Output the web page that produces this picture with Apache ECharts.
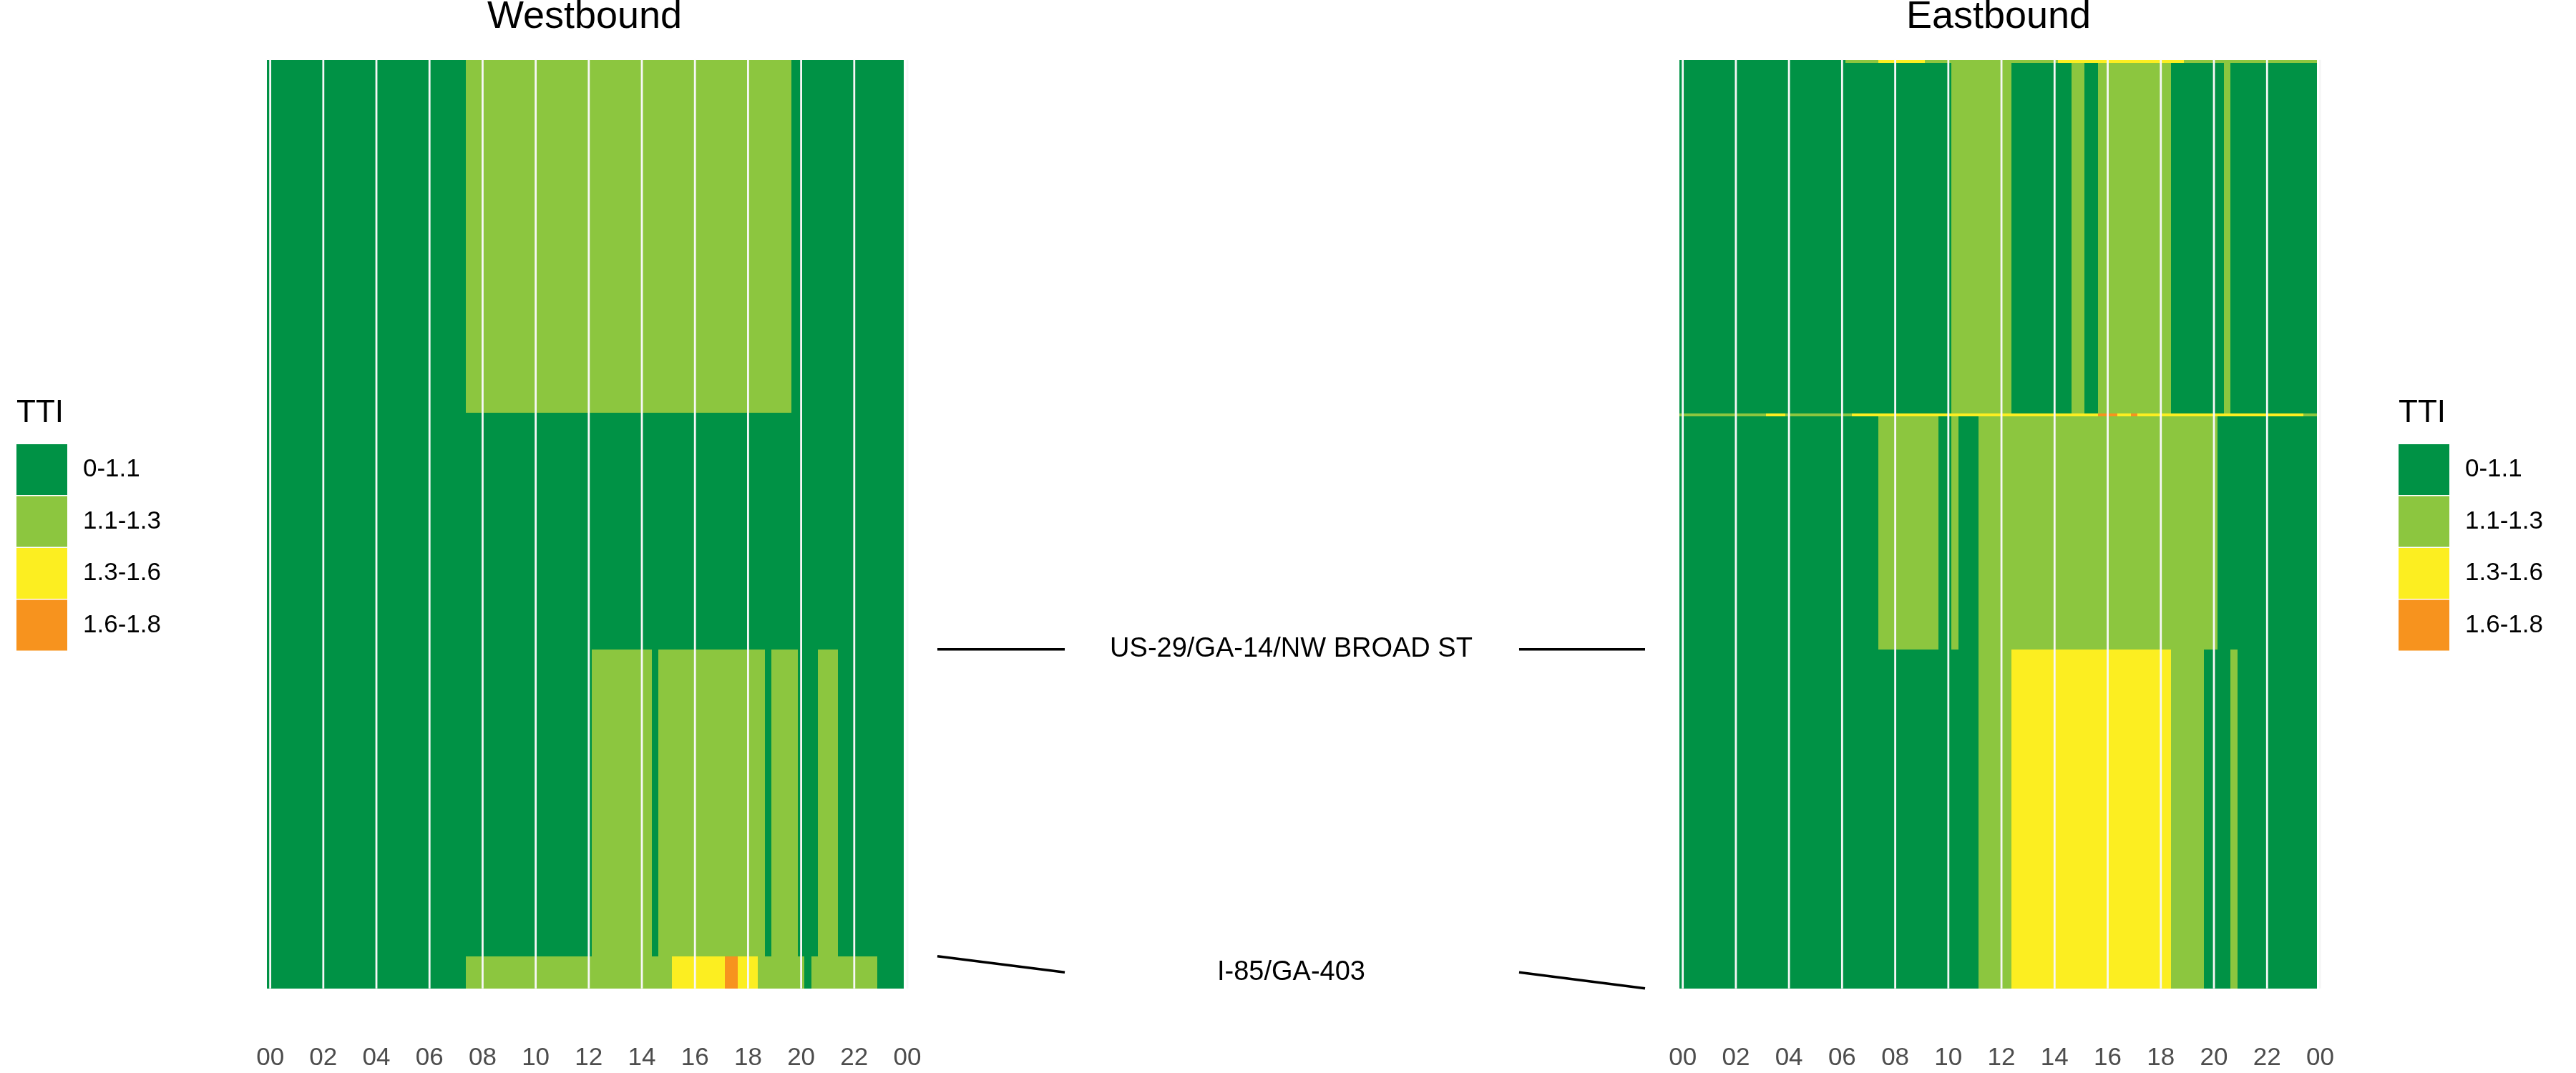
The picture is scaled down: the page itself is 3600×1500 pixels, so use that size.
<!DOCTYPE html>
<html>
<head>
<meta charset="utf-8">
<script src="https://cdn.jsdelivr.net/npm/echarts@6/dist/echarts.min.js"></script>
<style>
  html, body { margin: 0; padding: 0; background: #fff; }
  #chart { width: 3600px; height: 1500px; }
</style>
</head>
<body>
<div id="chart"></div>
<script>
// TTI classes
const levelLabels = ['0-1.1', '1.1-1.3', '1.3-1.6', '1.6-1.8'];
const levelColors = ['#009245', '#8CC63F', '#FCEE21', '#F7931E'];

// hour ticks (x axis)
const hourTicks = [0, 2, 4, 6, 8, 10, 12, 14, 16, 18, 20, 22, 24];

// segment breaks along the corridor (distance, bottom -> top)
const wbBreaks = [0, 0.045, 0.474, 0.805, 1.298];
const ebBreaks = [0, 0.474, 0.800, 0.804, 1.294, 1.298];

// runs of 15-min slots per segment: [first slot hour, last slot hour, TTI class]
// Westbound, bottom segment first
const wbRuns0 = [[0, 7.25, 0], [7.5, 15, 1], [15.25, 17, 2], [17.25, 17.5, 3], [17.75, 18.25, 2], [18.5, 20, 1], [20.25, 20.25, 0], [20.5, 22.75, 1], [23, 23.75, 0]];
const wbRuns1 = [[0, 12, 0], [12.25, 14.25, 1], [14.5, 14.5, 0], [14.75, 18.5, 1], [18.75, 18.75, 0], [19, 19.75, 1], [20, 20.5, 0], [20.75, 21.25, 1], [21.5, 23.75, 0]];
const wbRuns2 = [[0, 23.75, 0]];
const wbRuns3 = [[0, 7.25, 0], [7.5, 19.5, 1], [19.75, 23.75, 0]];
// Eastbound, bottom segment first
const ebRuns0 = [[0, 11, 0], [11.25, 12.25, 1], [12.5, 18.25, 2], [18.5, 19.5, 1], [19.75, 20.5, 0], [20.75, 20.75, 1], [21, 23.75, 0]];
const ebRuns1 = [[0, 7.25, 0], [7.5, 9.5, 1], [9.75, 10, 0], [10.25, 10.25, 1], [10.5, 11, 0], [11.25, 20, 1], [20.25, 23.75, 0]];
const ebRuns2 = [[0, 3, 1], [3.25, 3.75, 2], [4, 6.25, 1], [6.5, 15.5, 2], [15.75, 16.25, 3], [16.5, 16.75, 2], [17, 17, 3], [17.25, 23.25, 2], [23.5, 23.75, 1]];
const ebRuns3 = [[0, 10, 0], [10.25, 12.25, 1], [12.5, 14.5, 0], [14.75, 15, 1], [15.25, 15.5, 0], [15.75, 18.25, 1], [18.5, 20.25, 0], [20.5, 20.5, 1], [20.75, 23.75, 0]];
const ebRuns4 = [[0, 6, 0], [6.25, 7.25, 1], [7.5, 9, 2], [9.25, 14, 1], [14.25, 18.75, 2], [19, 23.75, 1]];

// cross streets: names and their distance in each direction
const crossNames = ['US-29/GA-14/NW BROAD ST', 'I-85/GA-403'];
const crossWb = [0.474, 0.045];
const crossEb = [0.474, 0];

const slotHalf = 0.125; // half of a 15-min slot, in hours
const distMax = 1.298;
const FONT = "'Liberation Sans', Arial, Helvetica, sans-serif";

function buildTiles(breaks, runsList) {
    const out = [];
    runsList.forEach(function (runs, i) {
        runs.forEach(function (r) {
            out.push([r[0] - slotHalf, r[1] + slotHalf, breaks[i], breaks[i + 1], r[2]]);
        });
    });
    return out;
}

const wbTiles = buildTiles(wbBreaks, [wbRuns0, wbRuns1, wbRuns2, wbRuns3]);
const ebTiles = buildTiles(ebBreaks, [ebRuns0, ebRuns1, ebRuns2, ebRuns3, ebRuns4]);

function renderTile(params, api) {
    const p0 = api.coord([api.value(0), api.value(3)]);
    const p1 = api.coord([api.value(1), api.value(2)]);
    const x0 = Math.round(p0[0]), x1 = Math.round(p1[0]);
    const y0 = Math.round(p0[1]), y1 = Math.round(p1[1]);
    return {
        type: 'rect',
        shape: { x: x0, y: y0, width: x1 - x0, height: y1 - y0 },
        style: { fill: levelColors[api.value(4)] }
    };
}

function renderGridLine(params, api) {
    const a = api.coord([api.value(0), 0]);
    const b = api.coord([api.value(0), distMax]);
    return {
        type: 'line',
        shape: { x1: a[0], y1: a[1], x2: b[0], y2: b[1] },
        style: { stroke: '#F7F7F7', lineWidth: 2.8 }
    };
}

function renderCross(params, api) {
    const wb = api.value(0), eb = api.value(1);
    const mid = (wb + eb) / 2;
    const a = api.coord([0, wb]);
    const b = api.coord([0.18, mid]);
    const c = api.coord([0.822, mid]);
    const d = api.coord([1, eb]);
    const t = api.coord([0.5, mid]);
    const ls = { stroke: '#000', lineWidth: 3.5 };
    return {
        type: 'group',
        children: [
            { type: 'line', shape: { x1: a[0], y1: a[1], x2: b[0], y2: b[1] }, style: ls },
            { type: 'line', shape: { x1: c[0], y1: c[1], x2: d[0], y2: d[1] }, style: ls },
            {
                type: 'text', x: t[0], y: t[1],
                style: {
                    text: crossNames[params.dataIndex], fill: '#000',
                    fontSize: 38, fontFamily: FONT, align: 'center', verticalAlign: 'middle'
                }
            }
        ]
    };
}

const timeAxis = function (gi) {
    return {
        gridIndex: gi, type: 'value', min: -slotHalf, max: 24,
        axisLine: { show: false }, axisTick: { show: false }, splitLine: { show: false },
        axisLabel: {
            customValues: hourTicks, showMinLabel: true, showMaxLabel: true,
            margin: 80, fontSize: 35, color: '#4D4D4D', fontFamily: FONT,
            formatter: function (v) { return String(v % 24).padStart(2, '0'); }
        }
    };
};
const distAxis = function (gi) {
    return { gridIndex: gi, type: 'value', min: 0, max: distMax, show: false };
};

const pieces = levelLabels.map(function (l, i) { return { value: i, label: l, color: levelColors[i] }; });
const legendBase = {
    type: 'piecewise', dimension: 4, seriesIndex: [0, 1], pieces: pieces,
    orient: 'vertical', inverse: true, itemSymbol: 'rect', itemWidth: 71, itemHeight: 71, itemGap: 1.5,
    align: 'left', textGap: 22, padding: 0, selectedMode: false, hoverLink: false,
    top: 621, textStyle: { fontSize: 35, color: '#000', fontFamily: FONT }
};

const chart = echarts.init(document.getElementById('chart'));
const option = {
    animation: false,
    backgroundColor: '#fff',
    textStyle: { fontFamily: FONT },
    title: [
        { text: 'Westbound', left: 817, top: -3, textAlign: 'center', padding: 0,
          textStyle: { fontSize: 54, fontWeight: 'normal', color: '#000', fontFamily: FONT } },
        { text: 'Eastbound', left: 2793, top: -3, textAlign: 'center', padding: 0,
          textStyle: { fontSize: 54, fontWeight: 'normal', color: '#000', fontFamily: FONT } },
        { text: 'TTI', left: 23, top: 556, padding: 0,
          textStyle: { fontSize: 44, fontWeight: 'normal', color: '#000', fontFamily: FONT } },
        { text: 'TTI', left: 3352, top: 556, padding: 0,
          textStyle: { fontSize: 44, fontWeight: 'normal', color: '#000', fontFamily: FONT } }
    ],
    visualMap: [
        Object.assign({}, legendBase, { left: 23 }),
        Object.assign({}, legendBase, { left: 3352 })
    ],
    grid: [
        { left: 373, top: 83.8, width: 895, height: 1297.9 },
        { left: 1310, top: 83.8, width: 989, height: 1297.9 },
        { left: 2347, top: 83.8, width: 895.5, height: 1297.9 }
    ],
    xAxis: [
        timeAxis(0),
        { gridIndex: 1, type: 'value', min: 0, max: 1, show: false },
        timeAxis(2)
    ],
    yAxis: [distAxis(0), distAxis(1), distAxis(2)],
    series: [
        { type: 'custom', name: 'Westbound', xAxisIndex: 0, yAxisIndex: 0, data: wbTiles,
          encode: { x: [0, 1], y: [2, 3] }, renderItem: renderTile, silent: true },
        { type: 'custom', name: 'Eastbound', xAxisIndex: 2, yAxisIndex: 2, data: ebTiles,
          encode: { x: [0, 1], y: [2, 3] }, renderItem: renderTile, silent: true },
        { type: 'custom', xAxisIndex: 0, yAxisIndex: 0, data: hourTicks.map(function (h) { return [h]; }),
          encode: { x: 0 }, renderItem: renderGridLine, silent: true, z: 3 },
        { type: 'custom', xAxisIndex: 2, yAxisIndex: 2, data: hourTicks.map(function (h) { return [h]; }),
          encode: { x: 0 }, renderItem: renderGridLine, silent: true, z: 3 },
        { type: 'custom', xAxisIndex: 1, yAxisIndex: 1,
          data: crossNames.map(function (n, i) { return [crossWb[i], crossEb[i]]; }),
          encode: { y: [0, 1] }, renderItem: renderCross, silent: true }
    ]
};
chart.setOption(option);
</script>
</body>
</html>
